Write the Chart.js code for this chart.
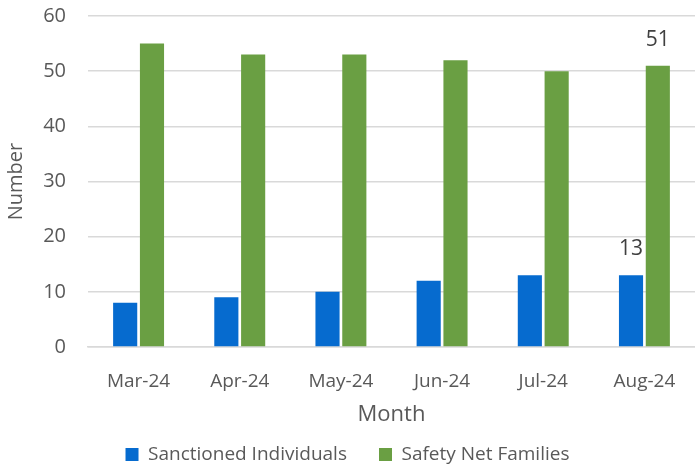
<!DOCTYPE html>
<html><head><meta charset="utf-8">
<script src="https://cdn.jsdelivr.net/npm/chart.js@4"></script>
<style>html,body{margin:0;padding:0;background:#fff}#wrap{width:695px;height:469px}</style>
</head><body><div id="wrap"><canvas id="c" width="695" height="469"></canvas></div>
<script>
const categories = ["Mar-24","Apr-24","May-24","Jun-24","Jul-24","Aug-24"];
const sanctioned = [8, 9, 10, 12, 13, 13];
const safetyNet = [55, 53, 53, 52, 50, 51];
const yTicks = [0, 10, 20, 30, 40, 50, 60];
const labelIndex = 5;

const FONT = "'Open Sans', 'Noto Sans', sans-serif";
const labelPlugin = {
  id: 'lastLabels',
  afterDatasetsDraw(chart) {
    const ctx = chart.ctx;
    ctx.save();
    ctx.fillStyle = '#404040';
    ctx.font = '21px ' + FONT;
    ctx.textAlign = 'center';
    ctx.textBaseline = 'middle';
    chart.data.datasets.forEach((ds, i) => {
      const el = chart.getDatasetMeta(i).data[labelIndex];
      ctx.fillText(String(ds.data[labelIndex]), el.x, el.y - 26);
    });
    ctx.restore();
  }
};

new Chart(document.getElementById('c'), {
  type: 'bar',
  data: {
    labels: categories,
    datasets: [
      { label: 'Sanctioned Individuals', data: sanctioned, backgroundColor: '#066BCF', borderWidth: 0 },
      { label: 'Safety Net Families', data: safetyNet, backgroundColor: '#6A9F43', borderWidth: 0 }
    ]
  },
  plugins: [labelPlugin],
  options: {
    responsive: false,
    animation: false,
    devicePixelRatio: 1,
    layout: { padding: { top: 16, right: 0, left: 0, bottom: -5 } },
    datasets: { bar: { categoryPercentage: 0.53, barPercentage: 0.9 } },
    plugins: {
      legend: {
        position: 'bottom',
        labels: { boxWidth: 13, boxHeight: 13, padding: 32, color: '#595959', font: { size: 19, family: FONT } }
      },
      tooltip: { enabled: false }
    },
    scales: {
      x: {
        grid: { display: false },
        border: { color: '#d9d9d9', width: 1.5 },
        ticks: { color: '#595959', font: { size: 19, family: FONT }, padding: 15 },
        title: { display: true, text: 'Month', color: '#595959', font: { size: 22, family: FONT }, padding: { top: 0, bottom: -15 } },
        afterFit(s) { s.height = 66; s.paddingLeft = 0; s.paddingRight = 0; }
      },
      y: {
        min: 0, max: 60,
        afterBuildTicks(s) { s.ticks = yTicks.map(v => ({ value: v })); },
        grid: { color: '#d9d9d9', lineWidth: 1.5, drawTicks: false },
        border: { display: false },
        ticks: { color: '#595959', font: { size: 20, family: FONT }, padding: 22 },
        title: { display: true, text: 'Number', color: '#595959', font: { size: 20, family: FONT }, padding: { top: 4, bottom: 4 } },
        afterFit(s) { s.width = 88; s.paddingTop = 0; s.paddingBottom = 0; }
      }
    }
  }
});
</script></body></html>
